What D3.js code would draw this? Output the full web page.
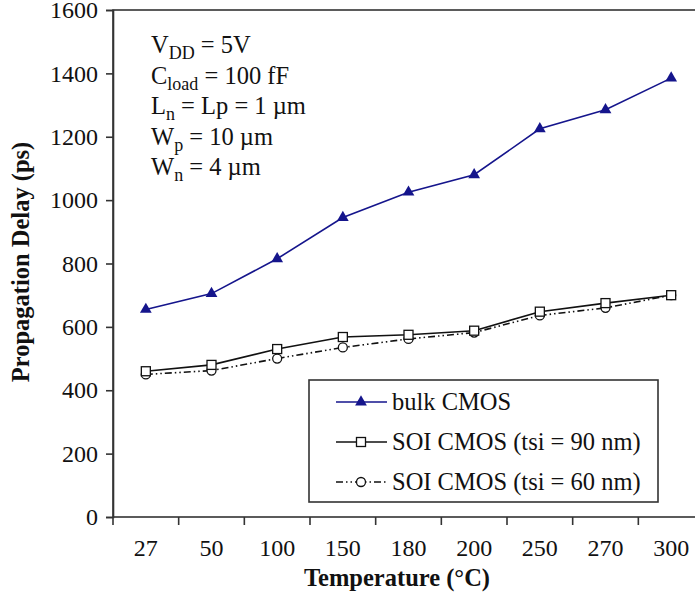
<!doctype html>
<html lang="en">
<head>
<meta charset="UTF-8">
<script src="https://d3js.org/d3.v7.min.js"></script>
<style>
body { margin: 0; background: #fff; }
svg { display: block; font-family: "Liberation Serif", "Times New Roman", serif; }
.axis path, .axis line { stroke: #333; stroke-width: 1.6px; }
.axis text { font-size: 24px; fill: #111; font-family: "Liberation Serif", serif; }
.title { font-size: 24.5px; font-weight: bold; fill: #111; }
.note { font-size: 24.5px; fill: #111; }
.leg { font-size: 24.5px; fill: #111; }
</style>
<title></title>
</head>
<body>
<div id="main"></div>
<script>
// temperatures (categories) and delays in ps
var temps = ["27", "50", "100", "150", "180", "200", "250", "270", "300"];
var bulk  = [655, 705, 815, 945, 1025, 1080, 1225, 1285, 1385];
var soi90 = [460, 480, 530, 568, 575, 588, 648, 675, 700];
var soi60 = [450, 462, 500, 535, 562, 582, 636, 660, 700];
var yTicks = [0, 200, 400, 600, 800, 1000, 1200, 1400, 1600];

var series = [
  {name: "bulk CMOS", values: bulk, color: "#15158c", dash: null, marker: "triangle"},
  {name: "SOI CMOS (tsi = 90 nm)", values: soi90, color: "#111", dash: null, marker: "square"},
  {name: "SOI CMOS (tsi = 60 nm)", values: soi60, color: "#111", dash: "7,3,1.5,3,1.5,3", marker: "circle"}
];

var width = 695, height = 599;
var pLeft = 113, pRight = 704, pTop = 10, pBottom = 517;

var svg = d3.select("#main").append("svg")
  .attr("width", width)
  .attr("height", height);

var x = d3.scaleBand().domain(temps).range([pLeft, pRight]).padding(0);
var y = d3.scaleLinear().domain([0, 1600]).range([pBottom, pTop]);

// frame
svg.append("rect")
  .attr("x", pLeft).attr("y", pTop)
  .attr("width", pRight - pLeft).attr("height", pBottom - pTop)
  .attr("fill", "none").attr("stroke", "#333").attr("stroke-width", 1.6);

// y axis
svg.append("g")
  .attr("class", "axis")
  .attr("transform", "translate(" + pLeft + ",0)")
  .call(d3.axisLeft(y).tickValues(yTicks).tickSize(7).tickPadding(8).tickFormat(d3.format("d")));

// x axis: labels at band centres, ticks at band edges
var xa = svg.append("g")
  .attr("class", "axis")
  .attr("transform", "translate(0," + pBottom + ")")
  .call(d3.axisBottom(x).tickSize(0).tickPadding(22));
xa.select(".domain").remove();
xa.selectAll(".edge")
  .data(temps.concat(["end"]))
  .enter().append("line")
  .attr("class", "edge")
  .attr("x1", function(d) { return d === "end" ? pRight : x(d); })
  .attr("x2", function(d) { return d === "end" ? pRight : x(d); })
  .attr("y1", 0).attr("y2", 8);

// axis titles
svg.append("text")
  .attr("class", "title")
  .attr("x", 397).attr("y", 586)
  .attr("text-anchor", "middle")
  .text("Temperature (°C)");

svg.append("text")
  .attr("class", "title")
  .attr("transform", "translate(29,262) rotate(-90)")
  .attr("text-anchor", "middle")
  .text("Propagation Delay (ps)");

// lines
var line = d3.line()
  .x(function(d, i) { return x(temps[i]) + x.bandwidth() / 2; })
  .y(function(d) { return y(d); });

function drawMarker(g, type, color) {
  if (type === "triangle") {
    g.append("path")
      .attr("d", d3.symbol().type(d3.symbolTriangle).size(60))
      .attr("fill", color);
  } else if (type === "square") {
    g.append("rect")
      .attr("x", -4.5).attr("y", -4.5).attr("width", 9).attr("height", 9)
      .attr("fill", "#fff").attr("stroke", color).attr("stroke-width", 1.3);
  } else {
    g.append("circle")
      .attr("r", 4.5)
      .attr("fill", "#fff").attr("stroke", color).attr("stroke-width", 1.3);
  }
}

series.slice().reverse().forEach(function(s) {
  svg.append("path")
    .datum(s.values)
    .attr("d", line)
    .attr("fill", "none")
    .attr("stroke", s.color)
    .attr("stroke-width", 1.6)
    .attr("stroke-dasharray", s.dash);
  s.values.forEach(function(v, i) {
    var g = svg.append("g")
      .attr("transform", "translate(" + (x(temps[i]) + x.bandwidth() / 2) + "," + y(v) + ")");
    drawMarker(g, s.marker, s.color);
  });
});

// annotation
var notes = [
  {main: "V", sub: "DD", rest: " = 5V"},
  {main: "C", sub: "load", rest: " = 100 fF"},
  {main: "L", sub: "n", rest: " = Lp = 1 \u00b5m"},
  {main: "W", sub: "p", rest: " = 10 \u00b5m"},
  {main: "W", sub: "n", rest: " = 4 \u00b5m"}
];
notes.forEach(function(n, i) {
  var t = svg.append("text")
    .attr("class", "note")
    .attr("x", 151)
    .attr("y", 53 + i * 30.5);
  t.append("tspan").text(n.main);
  t.append("tspan").attr("dy", 6).style("font-size", "18px").text(n.sub);
  t.append("tspan").attr("dy", -6).text(n.rest);
});

// legend
var leg = svg.append("g");
leg.append("rect")
  .attr("x", 309).attr("y", 380)
  .attr("width", 349).attr("height", 122)
  .attr("fill", "#fff").attr("stroke", "#333").attr("stroke-width", 1.6);

series.forEach(function(s, i) {
  var ly = 402 + i * 40;
  leg.append("line")
    .attr("x1", 336).attr("x2", 387)
    .attr("y1", ly).attr("y2", ly)
    .attr("stroke", s.color).attr("stroke-width", 1.6)
    .attr("stroke-dasharray", s.dash);
  var g = leg.append("g").attr("transform", "translate(361," + ly + ")");
  drawMarker(g, s.marker, s.color);
  leg.append("text")
    .attr("class", "leg")
    .attr("x", 392).attr("y", ly + 8)
    .text(s.name);
});
</script>
</body>
</html>
